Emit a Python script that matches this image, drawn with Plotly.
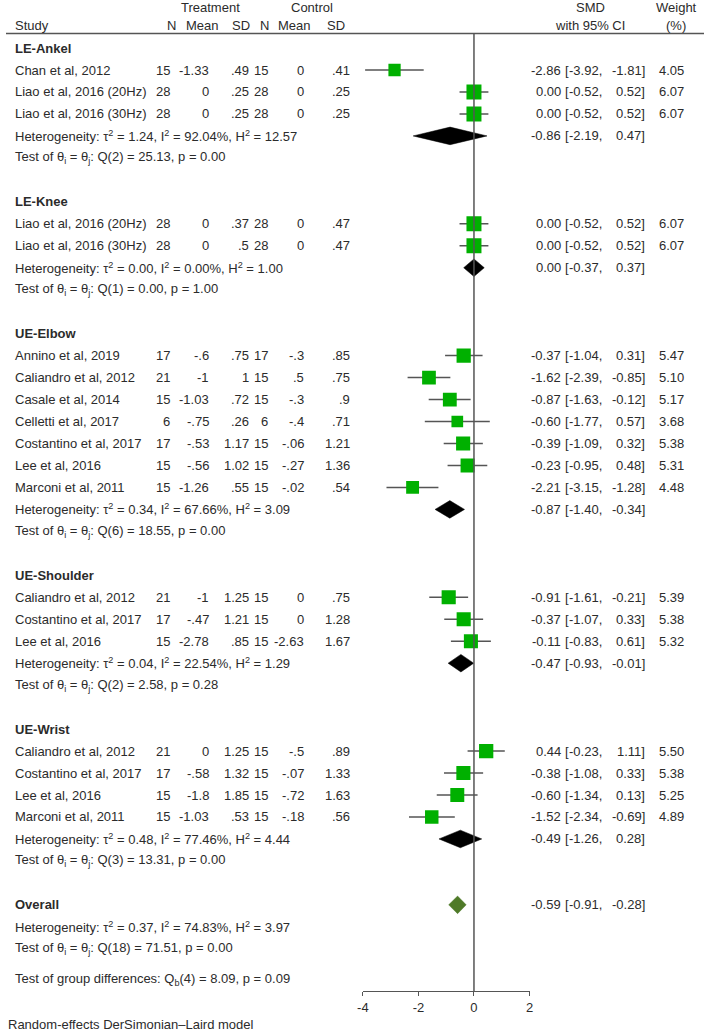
import plotly.graph_objects as go

# ---------------- data ----------------
group_names = ["LE-Ankel", "LE-Knee", "UE-Elbow", "UE-Shoulder", "UE-Wrist"]

study = ["Chan et al, 2012", "Liao et al, 2016 (20Hz)", "Liao et al, 2016 (30Hz)",
         "Liao et al, 2016 (20Hz)", "Liao et al, 2016 (30Hz)",
         "Annino et al, 2019", "Caliandro et al, 2012", "Casale et al, 2014", "Celletti et al, 2017",
         "Costantino et al, 2017", "Lee et al, 2016", "Marconi et al, 2011",
         "Caliandro et al, 2012", "Costantino et al, 2017", "Lee et al, 2016",
         "Caliandro et al, 2012", "Costantino et al, 2017", "Lee et al, 2016", "Marconi et al, 2011"]
group = ["LE-Ankel"] * 3 + ["LE-Knee"] * 2 + ["UE-Elbow"] * 7 + ["UE-Shoulder"] * 3 + ["UE-Wrist"] * 4

n_t = [15, 28, 28, 28, 28, 17, 21, 15, 6, 17, 15, 15, 21, 17, 15, 21, 17, 15, 15]
mean_t = [-1.33, 0, 0, 0, 0, -0.6, -1, -1.03, -0.75, -0.53, -0.56, -1.26, -1, -0.47, -2.78, 0, -0.58, -1.8, -1.03]
sd_t = [0.49, 0.25, 0.25, 0.37, 0.5, 0.75, 1, 0.72, 0.26, 1.17, 1.02, 0.55, 1.25, 1.21, 0.85, 1.25, 1.32, 1.85, 0.53]
n_c = [15, 28, 28, 28, 28, 17, 15, 15, 6, 15, 15, 15, 15, 15, 15, 15, 15, 15, 15]
mean_c = [0, 0, 0, 0, 0, -0.3, 0.5, -0.3, -0.4, -0.06, -0.27, -0.02, 0, 0, -2.63, -0.5, -0.07, -0.72, -0.18]
sd_c = [0.41, 0.25, 0.25, 0.47, 0.47, 0.85, 0.75, 0.9, 0.71, 1.21, 1.36, 0.54, 0.75, 1.28, 1.67, 0.89, 1.33, 1.63, 0.56]

smd = [-2.86, 0.00, 0.00, 0.00, 0.00, -0.37, -1.62, -0.87, -0.60, -0.39, -0.23, -2.21, -0.91, -0.37, -0.11, 0.44, -0.38, -0.60, -1.52]
ci_lo = [-3.92, -0.52, -0.52, -0.52, -0.52, -1.04, -2.39, -1.63, -1.77, -1.09, -0.95, -3.15, -1.61, -1.07, -0.83, -0.23, -1.08, -1.34, -2.34]
ci_hi = [-1.81, 0.52, 0.52, 0.52, 0.52, 0.31, -0.85, -0.12, 0.57, 0.32, 0.48, -1.28, -0.21, 0.33, 0.61, 1.11, 0.33, 0.13, -0.69]
weight = [4.05, 6.07, 6.07, 6.07, 6.07, 5.47, 5.10, 5.17, 3.68, 5.38, 5.31, 4.48, 5.39, 5.38, 5.32, 5.50, 5.38, 5.25, 4.89]

group_smd = [-0.86, 0.00, -0.87, -0.47, -0.49]
group_lo = [-2.19, -0.37, -1.40, -0.93, -1.26]
group_hi = [0.47, 0.37, -0.34, -0.01, 0.28]
group_tau2 = [1.24, 0.00, 0.34, 0.04, 0.48]
group_i2 = [92.04, 0.00, 67.66, 22.54, 77.46]
group_h2 = [12.57, 1.00, 3.09, 1.29, 4.44]
group_qdf = [2, 1, 6, 2, 3]
group_q = [25.13, 0.00, 18.55, 2.58, 13.31]
group_p = [0.00, 1.00, 0.00, 0.28, 0.00]

overall_smd, overall_lo, overall_hi = -0.59, -0.91, -0.28
overall_tau2, overall_i2, overall_h2 = 0.37, 74.83, 3.97
overall_qdf, overall_q, overall_p = 18, 71.51, 0.00
diff_df, diff_q, diff_p = 4, 8.09, 0.09

x_ticks = [-4, -2, 0, 2]

# ---------------- layout constants ----------------
W, H = 708, 1033
AXIS_PX = 991          # pixel row of the x axis line
ROW_PX = 21.97         # pixel pitch of one table row
ROW1_PX = 70           # pixel of row index 1
Y_TOP = 1 - ROW1_PX / ROW_PX
Y_BOT = 1 + (AXIS_PX - ROW1_PX) / ROW_PX
FONT = "Liberation Sans, Arial, sans-serif"
TXT = "#2b2b2b"
FS = 13


def py(px):
    return 1 + (px - ROW1_PX) / ROW_PX


def sfmt(v):
    s = f"{v:g}"
    if s.startswith("0."):
        s = s[1:]
    elif s.startswith("-0."):
        s = "-" + s[2:]
    return s


annotations = []


def txt(xpx, y, s, anchor="right", bold=False, yref="y"):
    if bold:
        s = "<b>" + s + "</b>"
    annotations.append(dict(x=xpx / W, xref="paper", y=y, yref=yref, text=s, showarrow=False,
                            xanchor=anchor, yanchor="middle", borderpad=0,
                            font=dict(family=FONT, size=FS, color=TXT)))


def het_text(t2, i2, h2):
    return (f"Heterogeneity: \u03c4<sup>2</sup> = {t2:.2f}, I<sup>2</sup> = {i2:.2f}%, "
            f"H<sup>2</sup> = {h2:.2f}")


def test_text(df, q, p):
    return f"Test of \u03b8<sub>i</sub> = \u03b8<sub>j</sub>: Q({df}) = {q:.2f}, p = {p:.2f}"


def ci_texts(y, e, lo, hi, w=None):
    txt(564, y, f"{e:.2f}")
    txt(565.5, y, "[", "left")
    txt(606, y, f"{lo:.2f},")
    txt(649, y, f"{hi:.2f}]")
    if w is not None:
        txt(689, y, f"{w:.2f}")


# header
txt(207, py(7), "Treatment", "center")
txt(310, py(7), "Control", "center")
txt(8, py(25), "Study", "left")
for xc, lab in [(168, "N"), (199.5, "Mean"), (238, "SD"), (262.5, "N"), (292.5, "Mean"), (334.5, "SD")]:
    txt(xc, py(25), lab, "center")
txt(593, py(7), "SMD", "center")
txt(592, py(25), "with 95% CI", "center")
txt(680, py(7), "Weight", "center")
txt(680, py(25), "(%)", "center")

# rows
study_rows = []
diamonds = []
row = 0
for g_i, g in enumerate(group_names):
    txt(8, row, g, "left", bold=True)
    row += 1
    for i in range(len(study)):
        if group[i] != g:
            continue
        study_rows.append((i, row))
        txt(8, row, study[i], "left")
        txt(167, row, str(n_t[i]))
        txt(206.5, row, sfmt(mean_t[i]))
        txt(248, row, sfmt(sd_t[i]))
        txt(267, row, str(n_c[i]))
        txt(303.5, row, sfmt(mean_c[i]))
        txt(350, row, sfmt(sd_c[i]))
        ci_texts(row, smd[i], ci_lo[i], ci_hi[i], weight[i])
        row += 1
    txt(8, row, het_text(group_tau2[g_i], group_i2[g_i], group_h2[g_i]), "left")
    ci_texts(row, group_smd[g_i], group_lo[g_i], group_hi[g_i])
    diamonds.append((row, group_smd[g_i], group_lo[g_i], group_hi[g_i], "black"))
    row += 1
    txt(8, row, test_text(group_qdf[g_i], group_q[g_i], group_p[g_i]), "left")
    row += 2

txt(8, row, "Overall", "left", bold=True)
ci_texts(row, overall_smd, overall_lo, overall_hi)
diamonds.append((row, overall_smd, overall_lo, overall_hi, "#4f7a28"))
txt(8, row + 1, het_text(overall_tau2, overall_i2, overall_h2), "left")
txt(8, row + 2, test_text(overall_qdf, overall_q, overall_p), "left")
txt(8, row + 3.4, f"Test of group differences: Q<sub>b</sub>({diff_df}) = {diff_q:.2f}, p = {diff_p:.2f}", "left")
annotations.append(dict(x=2 / W, xref="paper", y=-(H - AXIS_PX - 1) / AXIS_PX, yref="paper",
                        text="Random-effects DerSimonian\u2013Laird model", showarrow=False,
                        xanchor="left", yanchor="bottom", borderpad=0, borderwidth=0,
                        font=dict(family=FONT, size=FS, color=TXT)))

fig = go.Figure()

# CI lines
lx, ly = [], []
for i, r in study_rows:
    lx += [ci_lo[i], ci_hi[i], None]
    ly += [r, r, None]
fig.add_trace(go.Scatter(x=lx, y=ly, mode="lines", line=dict(color="#555555", width=1.5),
                         hoverinfo="skip"))

# diamonds
HH = 0.4
for r, e, lo, hi, col in diamonds:
    fig.add_trace(go.Scatter(x=[lo, e, hi, e, lo], y=[r, r - HH, r, r + HH, r], mode="lines",
                             fill="toself", fillcolor=col, line=dict(color=col, width=0.5),
                             hoverinfo="skip"))

# squares
K = 15 / (6.07 ** 0.5)
fig.add_trace(go.Scatter(x=[smd[i] for i, r in study_rows], y=[r for i, r in study_rows],
                         mode="markers",
                         marker=dict(symbol="square", color="rgb(0,176,0)", opacity=1,
                                     size=[K * weight[i] ** 0.5 for i, r in study_rows],
                                     line=dict(width=0)),
                         hoverinfo="skip"))

shapes = [
    dict(type="line", xref="paper", yref="y", x0=0, x1=1, y0=py(33.5), y1=py(33.5),
         line=dict(color="#555555", width=1.3)),
    dict(type="line", xref="x", yref="y", x0=0, x1=0, y0=py(33.5), y1=Y_BOT,
         line=dict(color="#555555", width=1.5)),
]

fig.update_layout(
    width=W, height=H,
    margin=dict(l=0, r=0, t=0, b=H - AXIS_PX, pad=0),
    paper_bgcolor="white", plot_bgcolor="white",
    showlegend=False,
    annotations=annotations,
    shapes=shapes,
    xaxis=dict(domain=[362 / W, 531 / W], range=[-4, 2], tickvals=x_ticks,
               ticktext=[str(v) for v in x_ticks],
               showgrid=False, zeroline=False, showline=True, linecolor="#555555", linewidth=1.3,
               ticks="outside", ticklen=4, tickcolor="#555555", tickwidth=1.3,
               tickfont=dict(family=FONT, size=FS, color=TXT), fixedrange=True),
    yaxis=dict(domain=[0, 1], range=[Y_BOT, Y_TOP], visible=False, showgrid=False,
               zeroline=False, fixedrange=True),
)

fig.write_html("out.html", config={"displayModeBar": False},
               post_script="document.body.style.margin='0px';document.body.style.overflow='hidden';")
